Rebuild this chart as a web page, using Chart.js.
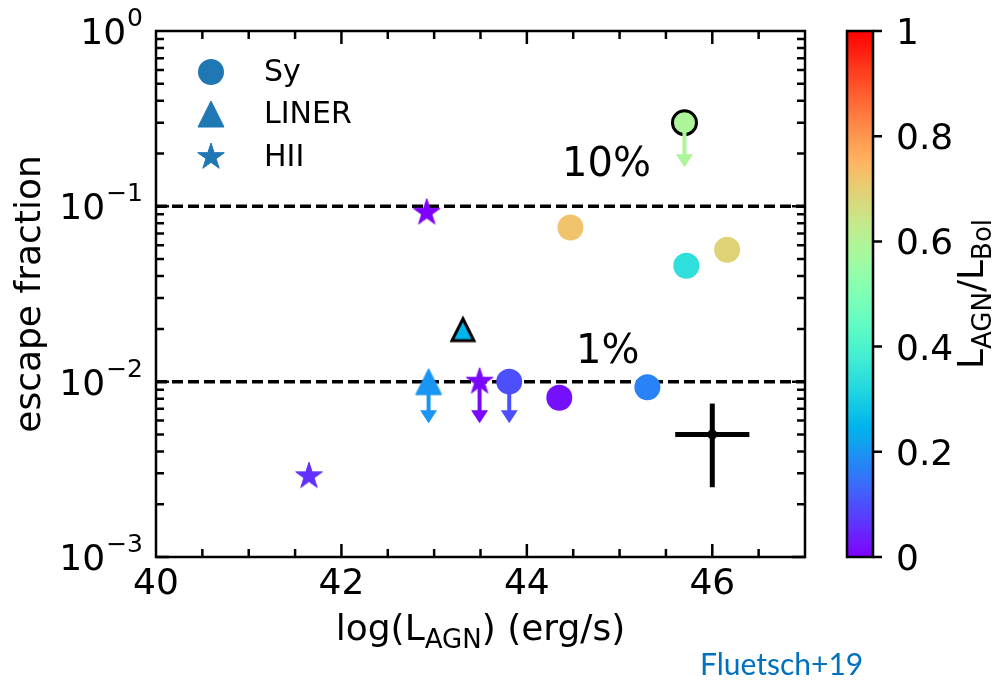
<!DOCTYPE html>
<html>
<head>
<meta charset="utf-8">
<script src="https://cdn.jsdelivr.net/npm/chart.js@4/dist/chart.umd.min.js"></script>
<style>
body{margin:0;background:#fff;}
</style>
</head>
<body>
<canvas id="grafico" width="993" height="686"></canvas>
<script>

// Seyfert
const syX=[44.47,45.72,46.16,43.81,44.35,45.30,45.70]
const syY=[0.0757,0.0458,0.0565,0.0100,0.0081,0.0093,0.300]
const syFrac=[0.72,0.34,0.69,0.10,0.02,0.17,0.59]
const syDestaque=[false,false,false,false,false,false,true]
const syLimite=[null,null,null,0.0058,null,null,0.167]

// LINER
const linerX=[43.31,42.94]
const linerY=[0.0198,0.0100]
const linerFrac=[0.25,0.20]
const linerDestaque=[true,false]
const linerLimite=[null,0.0058]

// HII
const hiiX=[42.92,43.49,41.65]
const hiiY=[0.092,0.0100,0.00289]
const hiiFrac=[0.00,0.01,0.06]
const hiiLimite=[null,0.0058,null]

// barra de erro típica
const erroX=[46.0]
const erroY=[0.005]
const erroDX=[0.4]
const erroDY=[0.0025]

// linhas de 10% e 1%
const linhasFracao=[0.1,0.01]
const rotulosFracao=["10%","1%"]

const xTicks=[40,42,44,46]
const yTicks=[0.001,0.01,0.1,1]
const yExpoentes=["\u22123","\u22122","\u22121","0"]
const cbarTicks=[0,0.2,0.4,0.6,0.8,1]
const cbarRotulos=["0","0.2","0.4","0.6","0.8","1"]
const legendaNomes=["Sy","LINER","HII"]

const corLegenda="#1f77b4"
const fonte="'DejaVu Sans'"

// mapa de cores rainbow
function arcoIris(t){
let r=Math.min(1,Math.abs(2*t-0.5))
let g=Math.sin(t*Math.PI)
let b=Math.cos(t*Math.PI/2)
return "rgb("+Math.round(r*255)+","+Math.round(g*255)+","+Math.round(b*255)+")"
}

const cacheMarcadores={}

function marcador(tipo,cor,destaque){

const chave=tipo+cor+destaque
if(cacheMarcadores[chave]) return cacheMarcadores[chave]

const c=document.createElement("canvas")
c.width=40
c.height=40
const g=c.getContext("2d")
g.translate(20,20)
g.beginPath()

if(tipo==="triangulo"){
const h=destaque?11:13
g.moveTo(0,-h)
g.lineTo(h,h)
g.lineTo(-h,h)
g.closePath()
}else{
const R=14
const r=R*0.381966
for(let i=0;i<10;i++){
let a=-Math.PI/2+i*Math.PI/5
let rr=i%2?r:R
g.lineTo(rr*Math.cos(a),rr*Math.sin(a))
}
g.closePath()
}

g.fillStyle=cor
g.fill()
g.lineJoin=destaque?"miter":"round"
g.lineWidth=destaque?3:1
g.strokeStyle=destaque?"#000":cor
g.stroke()

cacheMarcadores[chave]=c
return c

}

function pontos(xs,ys){
return xs.map((x,i)=>({x:x,y:ys[i]}))
}

function linhaHorizontal(v){
return {
data:[{x:40,y:v},{x:47,y:v}],
showLine:true,
borderColor:"#000",
borderWidth:3.5,
borderDash:[11,5],
pointRadius:0,
order:5
}
}

function setaParaBaixo(ctx,x,y0,y1,cor){
const cabeca=13
const meia=8.5
ctx.save()
ctx.strokeStyle=cor
ctx.fillStyle=cor
ctx.lineWidth=4
ctx.beginPath()
ctx.moveTo(x,y0)
ctx.lineTo(x,y1-cabeca+1)
ctx.stroke()
ctx.beginPath()
ctx.moveTo(x-meia,y1-cabeca)
ctx.lineTo(x+meia,y1-cabeca)
ctx.lineTo(x,y1)
ctx.closePath()
ctx.fill()
ctx.restore()
}

function textoComSub(ctx,partes,x,y,tam){
let total=0
partes.forEach(p=>{
ctx.font=(p[1]?Math.round(tam*0.72):tam)+"px "+fonte
total+=ctx.measureText(p[0]).width
})
let cx=x-total/2
partes.forEach(p=>{
ctx.font=(p[1]?Math.round(tam*0.72):tam)+"px "+fonte
ctx.fillText(p[0],cx,p[1]?y+8:y)
cx+=ctx.measureText(p[0]).width
})
}

function potenciaDez(ctx,xDir,yCentro,expoente){
ctx.font="36px "+fonte
const wBase=ctx.measureText("10").width
ctx.font="25px "+fonte
const wExp=ctx.measureText(expoente).width
const x0=xDir-wBase-wExp-1
const base=yCentro+13
ctx.font="36px "+fonte
ctx.fillText("10",x0,base)
ctx.font="25px "+fonte
ctx.fillText(expoente,x0+wBase+1,base-18)
}

const pluginEixos={

id:"eixos",

afterDatasetsDraw(chart){

const ctx=chart.ctx
const sx=chart.scales.x
const sy=chart.scales.y

const setas=[
[syX,syY,syLimite,syFrac],
[linerX,linerY,linerLimite,linerFrac],
[hiiX,hiiY,hiiLimite,hiiFrac]
]

setas.forEach(s=>{
s[0].forEach((x,i)=>{
if(s[2][i]==null) return
setaParaBaixo(ctx,sx.getPixelForValue(x),sy.getPixelForValue(s[1][i]),sy.getPixelForValue(s[2][i]),arcoIris(s[3][i]))
})
})

},

afterDraw(chart){

const ctx=chart.ctx
const a=chart.chartArea
const sx=chart.scales.x
const sy=chart.scales.y
const sc=chart.scales.c

ctx.save()
ctx.fillStyle="#000"
ctx.strokeStyle="#000"

// ticks para dentro nos quatro lados
ctx.lineWidth=2.5
ctx.beginPath()
for(let v=40;v<=47;v+=0.5){
let px=sx.getPixelForValue(v)
let len=xTicks.includes(v)?13:8
if(v===40||v===47) continue
ctx.moveTo(px,a.bottom)
ctx.lineTo(px,a.bottom-len)
ctx.moveTo(px,a.top)
ctx.lineTo(px,a.top+len)
}
for(let d=-3;d<0;d++){
for(let k=1;k<10;k++){
let v=k*Math.pow(10,d)
let py=sy.getPixelForValue(v)
let len=k===1?13:8
ctx.moveTo(a.left,py)
ctx.lineTo(a.left+len,py)
ctx.moveTo(a.right,py)
ctx.lineTo(a.right-len,py)
}
}
ctx.stroke()

// moldura
ctx.lineWidth=2.5
ctx.strokeRect(a.left,a.top,a.right-a.left,a.bottom-a.top)

// rótulos dos eixos
ctx.font="36px "+fonte
ctx.textAlign="center"
ctx.textBaseline="alphabetic"
xTicks.forEach(v=>{
ctx.fillText(String(v),sx.getPixelForValue(v),594)
})

ctx.textAlign="left"
yTicks.forEach((v,i)=>{
potenciaDez(ctx,143,sy.getPixelForValue(v),yExpoentes[i])
})

textoComSub(ctx,[["log(L",false],["AGN",true],[") (erg/s)",false]],(a.left+a.right)/2,640,36)

ctx.save()
ctx.translate(40,(a.top+a.bottom)/2)
ctx.rotate(-Math.PI/2)
ctx.font="36px "+fonte
ctx.textAlign="center"
ctx.fillText("escape fraction",0,0)
ctx.restore()

// 10% e 1%
ctx.font="40px "+fonte
ctx.textAlign="left"
ctx.fillText(rotulosFracao[0],sx.getPixelForValue(44.38),sy.getPixelForValue(0.149))
ctx.fillText(rotulosFracao[1],sx.getPixelForValue(44.53),sy.getPixelForValue(0.0128))

// legenda
const legY=[72,114,157]
ctx.beginPath()
ctx.fillStyle=corLegenda
ctx.arc(211,legY[0],13,0,Math.PI*2)
ctx.fill()
let tri=marcador("triangulo",corLegenda,false)
ctx.drawImage(tri,211-20,legY[1]-20)
let est=marcador("estrela",corLegenda,false)
ctx.drawImage(est,211-20,legY[2]-20)
ctx.fillStyle="#000"
ctx.font="30px "+fonte
legendaNomes.forEach((n,i)=>{
ctx.fillText(n,264,legY[i]+9)
})

// barra de cores
const cbEsq=847
const cbDir=873
const cbTopo=sc.getPixelForValue(1)
const cbBase=sc.getPixelForValue(0)
const grad=ctx.createLinearGradient(0,cbBase,0,cbTopo)
for(let i=0;i<=40;i++){
grad.addColorStop(i/40,arcoIris(i/40))
}
ctx.fillStyle=grad
ctx.fillRect(cbEsq,cbTopo,cbDir-cbEsq,cbBase-cbTopo)
ctx.lineWidth=2.5
ctx.strokeRect(cbEsq,cbTopo,cbDir-cbEsq,cbBase-cbTopo)

ctx.fillStyle="#000"
ctx.font="36px "+fonte
ctx.beginPath()
cbarTicks.forEach((v,i)=>{
let py=sc.getPixelForValue(v)
ctx.moveTo(cbDir,py)
ctx.lineTo(cbDir+9,py)
ctx.fillText(cbarRotulos[i],896,py+13)
})
ctx.stroke()

ctx.save()
ctx.translate(983,(cbTopo+cbBase)/2)
ctx.rotate(-Math.PI/2)
textoComSub(ctx,[["L",false],["AGN",true],["/L",false],["Bol",true]],0,0,36)
ctx.restore()

// fonte dos dados
ctx.fillStyle="#0070c0"
ctx.font="30px Lato"
ctx.fillText("Fluetsch+19",700,675)

ctx.restore()

}

}

new Chart(document.getElementById("grafico"),{

type:"scatter",

data:{
datasets:[
{
label:"Sy",
data:pontos(syX,syY),
pointStyle:"circle",
pointRadius:syDestaque.map(d=>d?12:13),
pointBackgroundColor:syFrac.map(arcoIris),
pointBorderColor:"#000",
pointBorderWidth:syDestaque.map(d=>d?3:0),
order:1
},
{
label:"LINER",
data:pontos(linerX,linerY),
pointStyle:linerFrac.map((f,i)=>marcador("triangulo",arcoIris(f),linerDestaque[i])),
pointRadius:13,
order:1
},
{
label:"HII",
data:pontos(hiiX,hiiY),
pointStyle:hiiFrac.map(f=>marcador("estrela",arcoIris(f),false)),
pointRadius:13,
order:1
},
linhaHorizontal(linhasFracao[0]),
linhaHorizontal(linhasFracao[1]),
{
data:[{x:erroX[0]-erroDX[0],y:erroY[0]},{x:erroX[0]+erroDX[0],y:erroY[0]}],
showLine:true,
borderColor:"#000",
borderWidth:5,
pointRadius:0,
order:2
},
{
data:[{x:erroX[0],y:erroY[0]-erroDY[0]},{x:erroX[0],y:erroY[0]+erroDY[0]}],
showLine:true,
borderColor:"#000",
borderWidth:5,
pointRadius:0,
order:2
},
{
data:pontos(erroX,erroY),
pointRadius:5,
pointBackgroundColor:"#000",
pointBorderWidth:0,
order:2
}
]
},

options:{
responsive:false,
animation:false,
events:[],
layout:{padding:{left:156,top:31,right:188,bottom:129}},
plugins:{
legend:{display:false},
tooltip:{enabled:false}
},
scales:{
x:{type:"linear",min:40,max:47,display:false},
y:{type:"logarithmic",min:0.001,max:1,display:false},
c:{type:"linear",axis:"y",min:0,max:1,display:false}
}
},

plugins:[pluginEixos]

})

</script>
</body>
</html>
